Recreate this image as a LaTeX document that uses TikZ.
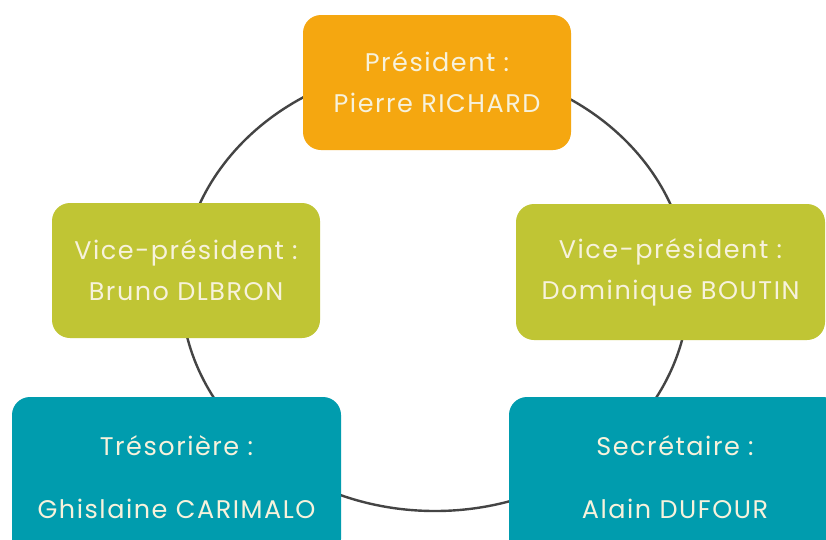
\documentclass[tikz,border=0pt]{standalone}
\usepackage{fontspec}
\newfontfamily\boxfont{Poppins}[LetterSpace=6]
\definecolor{orangebox}{HTML}{F5A710}
\definecolor{greenbox}{HTML}{C0C534}
\definecolor{tealbox}{HTML}{009CAE}
\definecolor{boxtext}{HTML}{F7F2DC}
\definecolor{ring}{HTML}{444444}
\tikzset{
  member/.style={rounded corners=18pt, inner sep=0pt, align=center, text=boxtext,
    font=\boxfont\fontsize{25.5}{41}\selectfont},
  lowmember/.style={member, font=\boxfont\fontsize{25.5}{63}\selectfont},
  ringline/.style={draw=ring, line width=2.4pt}
}
\begin{document}
\begin{tikzpicture}[x=1pt,y=-1pt]
\useasboundingbox (0,0) rectangle (826,539);
\clip (0,0) rectangle (826,539);
\fill[white] (0,0) rectangle (826,539);
\draw[ringline] (435,288) ellipse [x radius=254pt, y radius=223pt];
\node[member, fill=orangebox, minimum width=268pt, minimum height=135pt] (pres) at (437,82.5) {Président :\\Pierre RICHARD};
\node[member, fill=greenbox, minimum width=268pt, minimum height=135pt] (vpl) at (186,270.5) {Vice-président :\\Bruno DLBRON};
\node[member, fill=greenbox, minimum width=309pt, minimum height=136pt] (vpr) at (670.5,272) {Vice-président :\\Dominique BOUTIN};
\node[lowmember, fill=tealbox, minimum width=329pt, minimum height=160pt] (tres) at (176.5,477) {Trésorière :\\Ghislaine CARIMALO};
\node[lowmember, fill=tealbox, minimum width=332pt, minimum height=160pt] (sec) at (675,477) {Secrétaire :\\Alain DUFOUR};
\end{tikzpicture}
\end{document}
